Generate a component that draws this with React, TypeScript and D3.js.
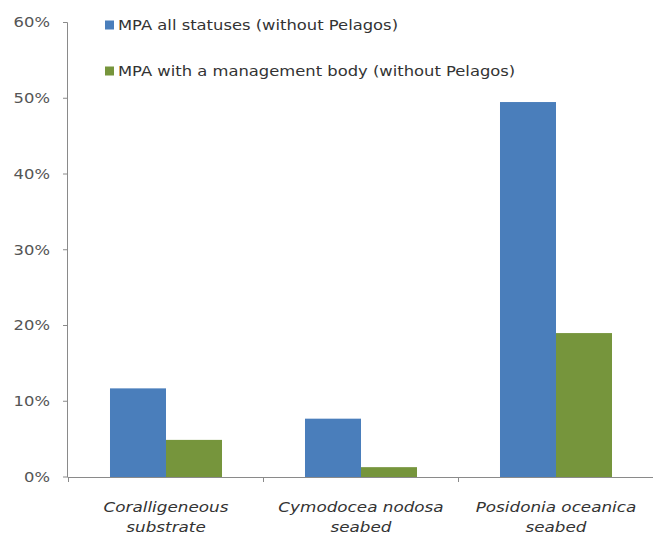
import { scaleBand, scaleLinear } from "d3";

const categories = [
  ["Coralligeneous", "substrate"],
  ["Cymodocea nodosa", "seabed"],
  ["Posidonia oceanica", "seabed"],
];
const seriesNames = [
  "MPA all statuses (without Pelagos)",
  "MPA with a management body (without Pelagos)",
];
const allStatuses = [11.7, 7.7, 49.5];
const withManagement = [4.9, 1.3, 19.0];
const yTicks = [0, 10, 20, 30, 40, 50, 60];

const colors = ["#4a7ebb", "#76953c"];
const W = 653;
const H = 540;
const font = "'DejaVu Sans', 'Open Sans', sans-serif";
// the source text is drawn a bit wider than DejaVu, so stretch it sideways
const stretch = 1.17;

export default function App() {
  const series = [allStatuses, withManagement];
  const x = scaleBand<number>()
    .domain(categories.map((_, i) => i))
    .range([68.5, 653.5])
    .paddingInner(0.4256)
    .paddingOuter(0.2128);
  const inner = scaleBand<number>()
    .domain([0, 1])
    .range([0, x.bandwidth()]);
  const y = scaleLinear().domain([0, 60]).range([477, 22.5]);

  return (
    <svg
      width={W}
      height={H}
      style={{ position: "absolute", left: 0, top: 0, background: "#fff" }}
      fontFamily={font}
    >
      {/* y axis */}
      <line x1={67.5} x2={67.5} y1={y(60)} y2={y(0)} stroke="#8a8a8a" />
      {yTicks.map((t) => (
        <g key={t}>
          <line x1={63} x2={67.5} y1={y(t)} y2={y(t)} stroke="#8a8a8a" />
          <text
            transform={`translate(50,${y(t)}) scale(${stretch},1)`}
            dy="0.35em"
            textAnchor="end"
            fontSize={14}
            fill="#555"
          >
            {t}%
          </text>
        </g>
      ))}

      {/* bars */}
      {series.map((vals, s) =>
        vals.map((v, i) => (
          <rect
            key={`${s}-${i}`}
            x={(x(i) ?? 0) + (inner(s) ?? 0)}
            y={y(v)}
            width={inner.bandwidth()}
            height={y(0) - y(v)}
            fill={colors[s]}
          />
        ))
      )}

      {/* x axis */}
      <line x1={67.5} x2={W} y1={y(0) + 0.5} y2={y(0) + 0.5} stroke="#8a8a8a" />
      {categories.map((_, i) => {
        const bx = 68.5 + i * x.step();
        return (
          <line key={i} x1={bx} x2={bx} y1={y(0)} y2={y(0) + 5} stroke="#8a8a8a" />
        );
      })}
      {categories.map((lines, i) => {
        const cx = (x(i) ?? 0) + x.bandwidth() / 2;
        return lines.map((l, j) => (
          <text
            key={`${i}-${j}`}
            transform={`translate(${cx},${512 + j * 20}) scale(1.2,1)`}
            textAnchor="middle"
            fontSize={14}
            fontStyle="italic"
            fill="#333"
          >
            {l}
          </text>
        ));
      })}

      {/* legend */}
      {seriesNames.map((name, s) => (
        <g key={s} transform={`translate(105,${25 + s * 46})`}>
          <rect x={0} y={-4.5} width={9} height={9} fill={colors[s]} />
          <text
            transform={`translate(13,0) scale(${stretch},1)`}
            dy="0.35em"
            fontSize={14}
            fill="#333"
          >
            {name}
          </text>
        </g>
      ))}
    </svg>
  );
}
